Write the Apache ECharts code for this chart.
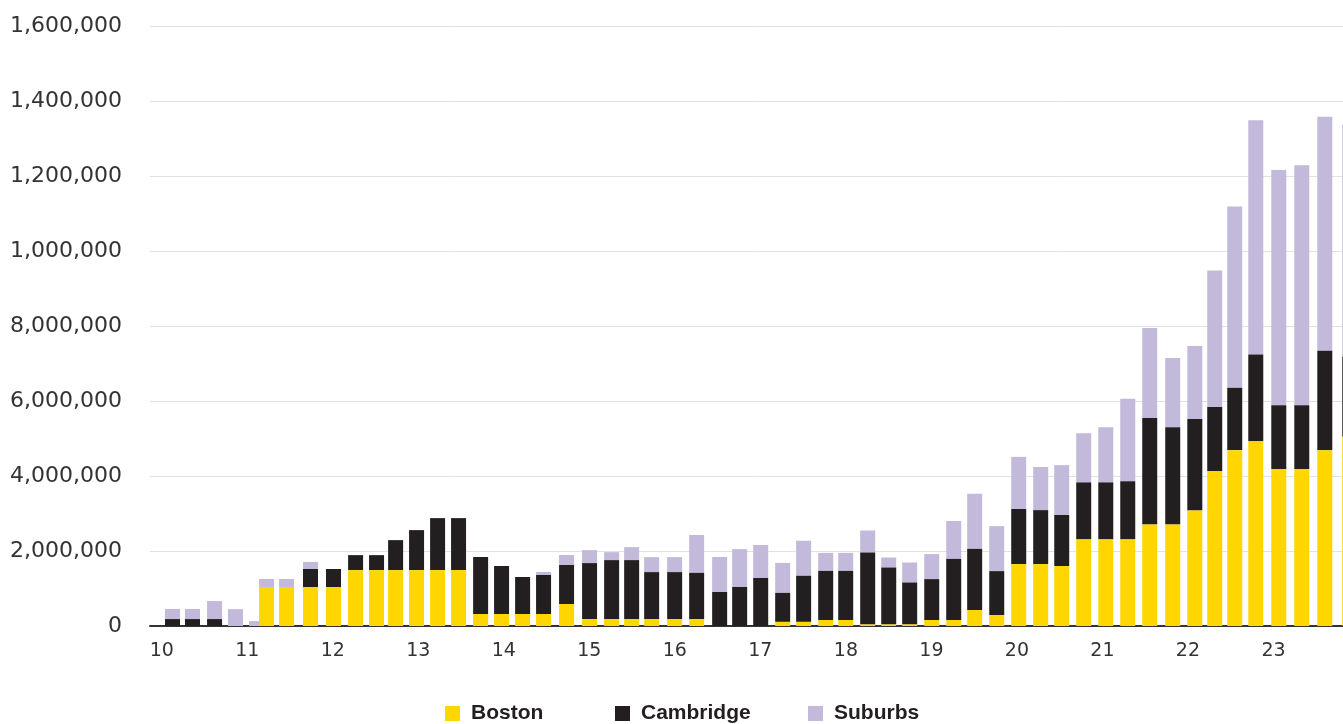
<!DOCTYPE html>
<html>
<head>
<meta charset="utf-8">
<script src="https://cdn.jsdelivr.net/npm/echarts@6/dist/echarts.min.js"></script>
<style>
  html, body { margin: 0; padding: 0; overflow: hidden; background: #fff; }
  #chart { width: 1400px; height: 724px; }
</style>
</head>
<body>
<div id="chart"></div>
<script>
// quarter positions as decimal years
const periods = [
  2010.126, 2010.360, 2010.618, 2010.863, 2011.109, 2011.226, 2011.460, 2011.740,
  2012.009, 2012.267, 2012.512, 2012.735, 2012.980, 2013.226, 2013.471, 2013.729,
  2013.974, 2014.220, 2014.465, 2014.734, 2015.003, 2015.261, 2015.495, 2015.729,
  2015.998, 2016.255, 2016.524, 2016.758, 2017.004, 2017.261, 2017.506, 2017.764,
  2017.998, 2018.255, 2018.501, 2018.746, 2019.004, 2019.261, 2019.506, 2019.764,
  2020.021, 2020.278, 2020.524, 2020.781, 2021.039, 2021.296, 2021.553, 2021.822,
  2022.080, 2022.313, 2022.547, 2022.793, 2023.062, 2023.331, 2023.600, 2023.892
];

const boston = [
  0, 0, 0, 0, 0, 1040000, 1040000, 1040000,
  1040000, 1490000, 1490000, 1490000, 1490000, 1490000, 1490000, 320000,
  320000, 320000, 320000, 587000, 187000, 187000, 187000, 187000,
  187000, 187000, 0, 0, 0, 110000, 110000, 160000,
  160000, 40000, 40000, 40000, 160000, 160000, 427000, 293000,
  1650000, 1650000, 1600000, 2310000, 2310000, 2310000, 2710000, 2710000,
  3080000, 4130000, 4690000, 4930000, 4180000, 4180000, 4690000, 5050000
];

const cambridge = [
  185000, 185000, 185000, 0, 0, 0, 0, 480000,
  480000, 400000, 400000, 800000, 1067000, 1387000, 1387000, 1520000,
  1280000, 987000, 1040000, 1040000, 1490000, 1570000, 1570000, 1250000,
  1250000, 1230000, 907000, 1040000, 1280000, 773000, 1230000, 1310000,
  1310000, 1920000, 1520000, 1120000, 1090000, 1630000, 1630000, 1170000,
  1470000, 1440000, 1360000, 1520000, 1520000, 1550000, 2840000, 2590000,
  2440000, 1710000, 1660000, 2310000, 1710000, 1710000, 2650000, 2130000
];

const suburbs = [
  270000, 270000, 480000, 450000, 130000, 213000, 213000, 187000,
  0, 0, 0, 0, 0, 0, 0, 0,
  0, 0, 80000, 267000, 347000, 213000, 347000, 400000,
  400000, 1010000, 933000, 1010000, 880000, 800000, 933000, 480000,
  480000, 587000, 267000, 533000, 667000, 1010000, 1470000, 1200000,
  1390000, 1150000, 1330000, 1310000, 1470000, 2200000, 2400000, 1850000,
  1950000, 3640000, 4840000, 6250000, 6270000, 6400000, 6240000, 6180000
];

const yearTicks = [2010, 2011, 2012, 2013, 2014, 2015, 2016, 2017, 2018, 2019, 2020, 2021, 2022, 2023];
const yearLabels = ['10', '11', '12', '13', '14', '15', '16', '17', '18', '19', '20', '21', '22', '23'];
// tick labels exactly as printed on the source chart
const yTickLabels = ['0', '2,000,000', '4,000,000', '6,000,000', '8,000,000',
  '1,000,000', '1,200,000', '1,400,000', '1,600,000'];

const chart = echarts.init(document.getElementById('chart'));

// echarts won't stack bars on a value x axis, so the stack is done here
// and each segment is drawn as a rect between its base and top
function segments(values, below) {
  return periods.map((p, i) => {
    let base = 0;
    below.forEach((arr) => { base += arr[i]; });
    return [p, base, base + values[i]];
  });
}

function renderSegment(params, api) {
  const bottom = api.coord([api.value(0), api.value(1)]);
  const top = api.coord([api.value(0), api.value(2)]);
  const w = 15;
  return {
    type: 'rect',
    shape: { x: bottom[0] - w / 2, y: top[1], width: w, height: bottom[1] - top[1] },
    style: { fill: api.visual('color') }
  };
}

function stackSeries(name, color, data, z) {
  return {
    name: name,
    type: 'custom',
    renderItem: renderSegment,
    encode: { x: 0, y: [1, 2] },
    itemStyle: { color: color },
    z: z,
    data: data
  };
}

const legendText = {
  fontFamily: 'Liberation Sans',
  fontSize: 21,
  fontWeight: 'bold',
  color: '#231f20',
  padding: [0, 0, 0, 6]
};

function legendAt(name, left) {
  return {
    data: [{ name: name, icon: 'rect' }],
    left: left,
    top: 703,
    padding: 0,
    itemWidth: 15,
    itemHeight: 15,
    selectedMode: false,
    textStyle: legendText
  };
}

chart.setOption({
  animation: false,
  grid: { left: 150, right: 41, top: 26, bottom: 98 },
  legend: [
    legendAt('Boston', 445),
    legendAt('Cambridge', 615),
    legendAt('Suburbs', 808)
  ],
  xAxis: {
    type: 'value',
    min: 2009.863,
    max: 2024,
    splitLine: { show: false },
    axisTick: { show: false },
    axisLine: { show: true, lineStyle: { color: '#333', width: 2 } },
    axisLabel: {
      customValues: yearTicks,
      formatter: (v) => yearLabels[yearTicks.indexOf(Math.round(v))],
      fontFamily: 'DejaVu Sans',
      fontSize: 19,
      color: '#333',
      margin: 16
    }
  },
  yAxis: {
    type: 'value',
    min: 0,
    max: 16000000,
    interval: 2000000,
    axisLine: { show: false },
    axisTick: { show: false },
    splitLine: { lineStyle: { color: '#e2e2dd', width: 1 } },
    axisLabel: {
      formatter: (v) => yTickLabels[Math.round(v / 2000000)],
      fontFamily: 'DejaVu Sans',
      fontSize: 22,
      color: '#333',
      margin: 28
    }
  },
  series: [
    stackSeries('Boston', '#ffd600', segments(boston, []), 4),
    stackSeries('Cambridge', '#231f20', segments(cambridge, [boston]), 3),
    stackSeries('Suburbs', '#c2b9db', segments(suburbs, [boston, cambridge]), 2)
  ]
});
</script>
</body>
</html>
